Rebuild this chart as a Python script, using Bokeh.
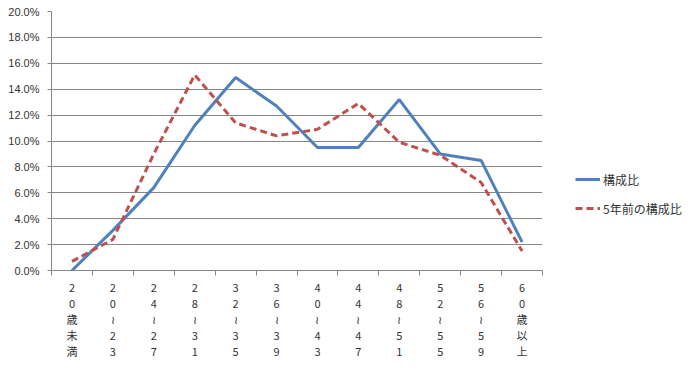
from bokeh.plotting import figure
from bokeh.layouts import row
from bokeh.models import (FixedTicker, NumeralTickFormatter, Range1d, Legend, LegendItem)
from bokeh.embed import file_html
from bokeh.resources import INLINE

categories = ["20歳未満", "20≀23", "24≀27", "28≀31", "32≀35", "36≀39",
              "40≀43", "44≀47", "48≀51", "52≀55", "56≀59", "60歳以上"]
current_pct = [0.0, 3.1, 6.4, 11.2, 14.9, 12.7, 9.5, 9.5, 13.2, 9.0, 8.5, 2.2]
five_years_ago_pct = [0.7, 2.4, 9.0, 15.1, 11.4, 10.4, 10.9, 12.9, 9.9, 8.9, 6.8, 1.5]
series_names = ["構成比", "5年前の構成比"]
y_ticks_pct = [0, 2, 4, 6, 8, 10, 12, 14, 16, 18, 20]

BLUE = "#4F81BD"
RED = "#C0504D"
GRID = "#868686"
TXT = "#333333"

xs = list(range(len(categories)))
cur = [v / 100 for v in current_pct]
old = [v / 100 for v in five_years_ago_pct]

p = figure(width=553, height=380, output_backend="svg", toolbar_location=None,
           x_range=Range1d(-0.5, len(categories) - 0.5), y_range=Range1d(0, 0.2),
           min_border_left=51, min_border_right=11, min_border_top=11, min_border_bottom=110)
p.outline_line_color = None
p.background_fill_color = "white"

p.line(xs, cur, line_color=BLUE, line_width=3)
p.line(xs, old, line_color=RED, line_width=3, line_dash="7 4")

# y axis
p.yaxis.ticker = FixedTicker(ticks=[t / 100 for t in y_ticks_pct])
p.yaxis.formatter = NumeralTickFormatter(format="0.0%")
p.yaxis.axis_line_color = GRID
p.yaxis.major_tick_line_color = GRID
p.yaxis.major_tick_out = 4
p.yaxis.major_tick_in = 0
p.yaxis.minor_tick_line_color = None
p.yaxis.major_label_text_font = "Liberation Sans"
p.yaxis.major_label_text_font_size = "11px"
p.yaxis.major_label_text_color = TXT
p.yaxis.major_label_standoff = 8

# x axis
labels = {}
for i, c in enumerate(categories):
    labels[i] = "\n".join(list(c))
p.xaxis.ticker = FixedTicker(ticks=xs, minor_ticks=[i + 0.5 for i in range(-1, len(categories))])
p.xaxis.major_label_overrides = labels
p.xaxis.major_tick_line_color = None
p.xaxis.major_tick_out = 0
p.xaxis.minor_tick_line_color = GRID
p.xaxis.minor_tick_out = 5
p.xaxis.minor_tick_in = 0
p.xaxis.axis_line_color = GRID
p.xaxis.major_label_text_font = "Noto Sans CJK JP"
p.xaxis.major_label_text_font_size = "11px"
p.xaxis.major_label_text_color = TXT
p.xaxis.major_label_standoff = 3
p.xaxis.major_label_text_line_height = 1.0

p.xgrid.grid_line_color = None
p.ygrid.grid_line_color = GRID
p.ygrid.grid_line_width = 1

# legend panel
q = figure(width=135, height=380, output_backend="svg", toolbar_location=None,
           x_range=Range1d(0, 1), y_range=Range1d(0, 1),
           min_border_left=0, min_border_right=0, min_border_top=0, min_border_bottom=0)
q.axis.visible = False
q.grid.grid_line_color = None
q.outline_line_color = None
l1 = q.line([-5, -4], [-5, -5], line_color=BLUE, line_width=3)
l2 = q.line([-5, -4], [-5, -5], line_color=RED, line_width=3, line_dash="7 4")
legend = Legend(items=[LegendItem(label=series_names[0], renderers=[l1]),
                       LegendItem(label=series_names[1], renderers=[l2])],
                location=(22, 52))
legend.border_line_color = None
legend.background_fill_alpha = 0
legend.label_text_font = "Noto Sans CJK JP"
legend.label_text_font_size = "12px"
legend.label_text_color = TXT
legend.glyph_width = 25
legend.glyph_height = 20
legend.spacing = 9
legend.label_standoff = 3
legend.padding = 0
legend.margin = 0
q.add_layout(legend, "center")

layout = row(p, q, spacing=0)
open("out.html", "w").write(file_html(layout, INLINE))
